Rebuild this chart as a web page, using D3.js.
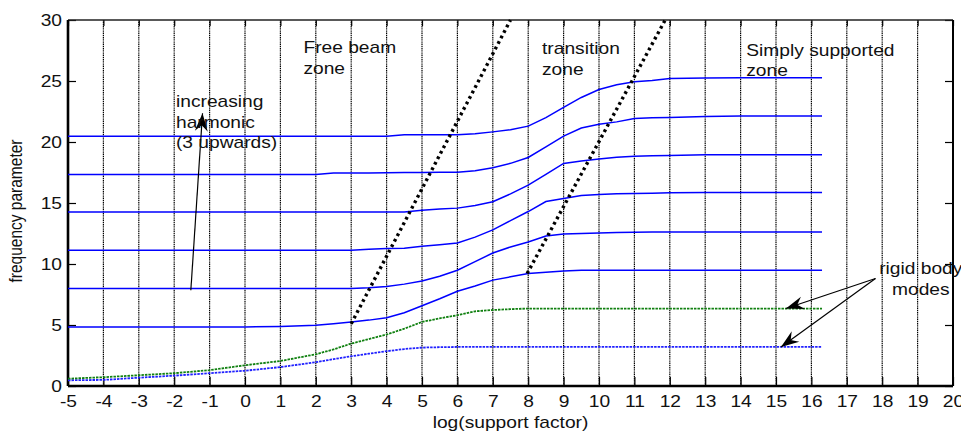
<!DOCTYPE html>
<html>
<head>
<meta charset="utf-8">
<script src="https://cdn.jsdelivr.net/npm/d3@7"></script>
<style>
  body { margin: 0; background: #fff; }
  text { font-family: "Liberation Sans", Arial, sans-serif; fill: #111; }
</style>
</head>
<body>
<div id="chart"></div>
<script>
// x values shared by all modes (log of support factor)
const logSupport = [-5, -4, -3, -2, -1, 0, 1, 2, 2.5, 3, 3.5, 4, 4.5, 5, 5.5, 6,
  6.5, 7, 7.5, 8, 8.5, 9, 9.5, 10, 10.5, 11, 11.5, 12, 13, 14, 15, 16.3];

// rigid body modes
const mode1 = [0.47, 0.5, 0.68, 0.85, 1.05, 1.25, 1.55, 1.95, 2.2, 2.44, 2.65, 2.85, 3.03, 3.15, 3.18, 3.2,
  3.2, 3.2, 3.2, 3.2, 3.2, 3.2, 3.2, 3.2, 3.2, 3.2, 3.2, 3.2, 3.2, 3.2, 3.2, 3.2];
const mode2 = [0.6, 0.72, 0.88, 1.05, 1.3, 1.7, 2.05, 2.6, 3.0, 3.48, 3.85, 4.22, 4.7, 5.25, 5.55, 5.8,
  6.12, 6.23, 6.3, 6.35, 6.35, 6.35, 6.35, 6.35, 6.35, 6.35, 6.35, 6.35, 6.35, 6.35, 6.35, 6.35];
// harmonics 3 upwards
const mode3 = [4.84, 4.84, 4.84, 4.84, 4.84, 4.84, 4.88, 4.98, 5.1, 5.25, 5.4, 5.6, 6.0, 6.58, 7.15, 7.77,
  8.2, 8.68, 8.95, 9.22, 9.32, 9.42, 9.49, 9.49, 9.49, 9.49, 9.49, 9.49, 9.49, 9.49, 9.49, 9.49];
const mode4 = [7.99, 7.99, 7.99, 7.99, 7.99, 7.99, 7.99, 7.99, 7.99, 8.0, 8.05, 8.15, 8.35, 8.6, 9.0, 9.49,
  10.2, 10.9, 11.4, 11.8, 12.3, 12.45, 12.5, 12.55, 12.58, 12.6, 12.62, 12.63, 12.63, 12.63, 12.63, 12.63];
const mode5 = [11.13, 11.13, 11.13, 11.13, 11.13, 11.13, 11.13, 11.13, 11.13, 11.13, 11.2, 11.27, 11.3, 11.45, 11.58, 11.73,
  12.2, 12.8, 13.55, 14.3, 15.12, 15.37, 15.62, 15.7, 15.75, 15.78, 15.8, 15.83, 15.86, 15.86, 15.86, 15.86];
const mode6 = [14.27, 14.27, 14.27, 14.27, 14.27, 14.27, 14.27, 14.27, 14.27, 14.27, 14.27, 14.27, 14.27, 14.41, 14.5, 14.58,
  14.8, 15.1, 15.75, 16.46, 17.35, 18.24, 18.44, 18.6, 18.75, 18.84, 18.88, 18.9, 18.95, 18.95, 18.95, 18.95];
const mode7 = [17.34, 17.34, 17.34, 17.34, 17.34, 17.34, 17.34, 17.34, 17.45, 17.45, 17.46, 17.48, 17.49, 17.5, 17.52, 17.53,
  17.65, 17.89, 18.25, 18.73, 19.6, 20.48, 21.15, 21.45, 21.65, 21.93, 21.98, 22.0, 22.1, 22.13, 22.13, 22.13];
const mode8 = [20.48, 20.48, 20.48, 20.48, 20.48, 20.48, 20.48, 20.48, 20.48, 20.48, 20.48, 20.48, 20.6, 20.6, 20.6, 20.6,
  20.67, 20.83, 21.0, 21.3, 22.0, 22.84, 23.65, 24.3, 24.7, 24.94, 25.05, 25.2, 25.25, 25.27, 25.27, 25.27];

// zone boundaries (thick dotted lines)
const freeBeamBoundary = [[3, 5.1], [7.5, 30]];
const simplySupportedBoundary = [[7.97, 9.22], [11.87, 30]];

const xTickValues = [-5, -4, -3, -2, -1, 0, 1, 2, 3, 4, 5, 6, 7, 8, 9, 10, 11, 12, 13, 14, 15, 16, 17, 18, 19, 20];
const yTickValues = [0, 5, 10, 15, 20, 25, 30];

const W = 961, H = 431;
const margin = { top: 20, right: 8, bottom: 45, left: 68 };
const xStretch = 1.2; // text in the original is widened horizontally

const svg = d3.select("#chart").append("svg")
  .attr("width", W).attr("height", H);

const x = d3.scaleLinear().domain([-5, 20]).range([margin.left, W - margin.right]);
const y = d3.scaleLinear().domain([0, 30]).range([H - margin.bottom, margin.top]);

// vertical dotted grid
svg.append("g").selectAll("line")
  .data(xTickValues.slice(1, -1))
  .join("line")
  .attr("x1", d => x(d)).attr("x2", d => x(d))
  .attr("y1", y(0)).attr("y2", y(30))
  .attr("stroke", "#000").attr("stroke-width", 1.2)
  .attr("stroke-dasharray", "1.4,0.8");

// axes with inward ticks
const xAxis = svg.append("g")
  .attr("transform", `translate(0,${y(0)})`)
  .call(d3.axisBottom(x).tickValues(xTickValues).tickFormat(d => String(d))
    .tickSizeInner(-9).tickSizeOuter(0).tickPadding(9.5));
const xAxisTop = svg.append("g")
  .attr("transform", `translate(0,${y(30)})`)
  .call(d3.axisTop(x).tickValues(xTickValues).tickSizeInner(-6).tickSizeOuter(0).tickFormat(""));
const yAxis = svg.append("g")
  .attr("transform", `translate(${x(-5)},0)`)
  .call(d3.axisLeft(y).tickValues(yTickValues).tickFormat(d => String(d))
    .tickSizeInner(-8).tickSizeOuter(0).tickPadding(5));
const yAxisRight = svg.append("g")
  .attr("transform", `translate(${x(20)},0)`)
  .call(d3.axisRight(y).tickValues(yTickValues).tickSizeInner(-8).tickSizeOuter(0).tickFormat(""));

[xAxis, xAxisTop, yAxis, yAxisRight].forEach(g => {
  g.select(".domain").remove();
  g.selectAll(".tick line").attr("stroke", "#000").attr("stroke-width", 1.2);
  g.selectAll(".tick text")
    .attr("font-size", 16)
    .attr("font-family", "Liberation Sans, Arial, sans-serif")
    .attr("fill", "#111")
    .attr("transform", `scale(${xStretch},1)`);
});

// box
svg.append("line").attr("x1", x(-5)).attr("x2", x(20)).attr("y1", y(30)).attr("y2", y(30))
  .attr("stroke", "#222").attr("stroke-width", 1.6);
svg.append("line").attr("x1", x(20)).attr("x2", x(20)).attr("y1", y(0)).attr("y2", y(30))
  .attr("stroke", "#000").attr("stroke-width", 2);
svg.append("line").attr("x1", x(-5)).attr("x2", x(20)).attr("y1", y(0)).attr("y2", y(0))
  .attr("stroke", "#000").attr("stroke-width", 2.6);
svg.append("line").attr("x1", x(-5)).attr("x2", x(-5)).attr("y1", y(0)).attr("y2", y(30))
  .attr("stroke", "#000").attr("stroke-width", 2.6);

// mode curves
const modes = [
  { values: mode1, color: "#2020ff", dash: "2.5,1", width: 1.8 },
  { values: mode2, color: "#108010", dash: "2.5,1", width: 1.8 },
  { values: mode3, color: "#0000ff", dash: null, width: 1.5 },
  { values: mode4, color: "#0000ff", dash: null, width: 1.5 },
  { values: mode5, color: "#0000ff", dash: null, width: 1.5 },
  { values: mode6, color: "#0000ff", dash: null, width: 1.5 },
  { values: mode7, color: "#0000ff", dash: null, width: 1.5 },
  { values: mode8, color: "#0000ff", dash: null, width: 1.5 }
];

const line = d3.line()
  .x((d, i) => x(logSupport[i]))
  .y(d => y(d));

svg.append("g").selectAll("path")
  .data(modes)
  .join("path")
  .attr("d", d => line(d.values))
  .attr("fill", "none")
  .attr("stroke", d => d.color)
  .attr("stroke-width", d => d.width)
  .attr("stroke-dasharray", d => d.dash);

// zone boundaries
const boundaryLine = d3.line().x(d => x(d[0])).y(d => y(d[1]));
svg.append("g").selectAll("path")
  .data([freeBeamBoundary, simplySupportedBoundary])
  .join("path")
  .attr("d", boundaryLine)
  .attr("fill", "none")
  .attr("stroke", "#000")
  .attr("stroke-width", 3.4)
  .attr("stroke-dasharray", "2.8,3.4");

// arrowhead
svg.append("defs").append("marker")
  .attr("id", "head")
  .attr("markerUnits", "userSpaceOnUse")
  .attr("viewBox", "-20 -8 22 16")
  .attr("refX", 0).attr("refY", 0)
  .attr("markerWidth", 22).attr("markerHeight", 16)
  .attr("orient", "auto")
  .append("path")
  .attr("d", "M0,0 L-18,-6.5 L-12,0 L-18,6.5 Z")
  .attr("fill", "#000");

const arrows = [
  { from: [-1.53, 7.85], to: [-1.2, 22.35] },
  { from: [17.81, 8.81], to: [15.28, 6.35] },
  { from: [17.81, 8.81], to: [15.14, 3.2] }
];
svg.append("g").selectAll("line")
  .data(arrows)
  .join("line")
  .attr("x1", d => x(d.from[0])).attr("y1", d => y(d.from[1]))
  .attr("x2", d => x(d.to[0])).attr("y2", d => y(d.to[1]))
  .attr("stroke", "#000").attr("stroke-width", 1.2)
  .attr("marker-end", "url(#head)");

// text labels
const notes = [
  { lines: ["Free beam", "zone"], x: 1.65, y: 27.26, anchor: "start" },
  { lines: ["transition", "zone"], x: 8.39, y: 27.18, anchor: "start" },
  { lines: ["Simply supported", "zone"], x: 14.16, y: 27.07, anchor: "start" },
  { lines: ["increasing", "harmonic", "(3 upwards)"], x: -1.95, y: 22.84, anchor: "start" },
  { lines: ["rigid body", "modes"], x: 19.09, y: 9.14, anchor: "middle" }
];
notes.forEach(n => {
  const t = svg.append("text")
    .attr("transform", `translate(${x(n.x)},${y(n.y)}) scale(${xStretch},1)`)
    .attr("font-size", 16)
    .attr("text-anchor", n.anchor);
  n.lines.forEach((s, i) => {
    t.append("tspan").attr("x", 0).attr("dy", i === 0 ? 0 : 20.5).text(s);
  });
});

// axis titles
svg.append("text")
  .attr("transform", `translate(${(x(-5) + x(20)) / 2},${H - 3}) scale(${xStretch},1)`)
  .attr("text-anchor", "middle")
  .attr("font-size", 16)
  .text("log(support factor)");

svg.append("text")
  .attr("transform", `translate(22,${(y(0) + y(30)) / 2 + 8}) scale(${xStretch},1) rotate(-90)`)
  .attr("text-anchor", "middle")
  .attr("font-size", 15.5)
  .text("frequency parameter");
</script>
</body>
</html>
